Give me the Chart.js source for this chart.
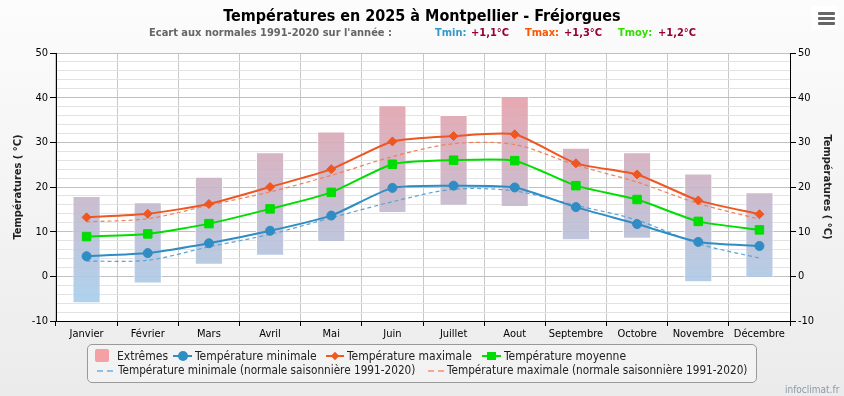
<!DOCTYPE html>
<html>
<head>
<meta charset="utf-8">
<script src="https://cdn.jsdelivr.net/npm/chart.js@4.4.1/dist/chart.umd.min.js"></script>
<style>
  html, body { margin: 0; padding: 0; }
  body {
    width: 844px; height: 396px; position: relative; overflow: hidden;
    background: linear-gradient(180deg, #fcfcfc 0%, #f3f3f3 55%, #ebebeb 100%);
    font-family: "DejaVu Sans Condensed", "DejaVu Sans", sans-serif;
  }
  #wrap { position: absolute; left: 0; top: 0; width: 844px; height: 396px; }
  .t { position: absolute; white-space: nowrap; line-height: 1; }
  .title { font-weight: bold; font-size: 16px; color: #000; left: 0; width: 844px; text-align: center; top: 8px; }
  .sub { font-weight: bold; font-size: 11px; top: 27px; }
  .legend { position: absolute; left: 87px; top: 344px; width: 668px; height: 37px; border: 1px solid #999; border-radius: 5px; background: rgba(255,255,255,0.35); }
  .lg { position: absolute; font-size: 12px; color: #222; white-space: nowrap; line-height: 1; }
  .lg2 { font-size: 11.7px; }
  .mk { position: absolute; }
  .menu { position: absolute; left: 811px; top: 6px; width: 27px; height: 24px; background: #fff; border-radius: 3px; }
  .menu div { position: absolute; left: 7px; width: 17px; height: 3px; background: #666; border-radius: 1px; }
</style>
</head>
<body>
<div id="wrap"><canvas id="chart"></canvas></div>

<div class="t title">Températures en 2025 à Montpellier - Fréjorgues</div>
<div class="t sub" style="left:149px;color:#666">Ecart aux normales 1991-2020 sur l'année :</div>
<div class="t sub" style="left:435px;color:#3399cc">Tmin:</div>
<div class="t sub" style="left:471px;color:#990033">+1,1°C</div>
<div class="t sub" style="left:525px;color:#ff5500">Tmax:</div>
<div class="t sub" style="left:564px;color:#990033">+1,3°C</div>
<div class="t sub" style="left:618px;color:#33dd00">Tmoy:</div>
<div class="t sub" style="left:658px;color:#990033">+1,2°C</div>

<div class="menu"><div style="top:6px"></div><div style="top:11px"></div><div style="top:16px"></div></div>

<div class="legend"></div>
<!-- legend row 1 -->
<div class="mk" style="left:95px;top:349px;width:14px;height:13px;background:#f4a0a4;border-radius:2px"></div>
<div class="lg" style="left:117px;top:350px">Extrêmes</div>
<div class="mk" style="left:173px;top:355px;width:19px;height:2px;background:#2f8dc4"></div>
<div class="mk" style="left:178px;top:351px;width:10px;height:10px;border-radius:50%;background:#2f8dc4"></div>
<div class="lg" style="left:195px;top:350px">Température minimale</div>
<div class="mk" style="left:326px;top:355px;width:18px;height:2px;background:#f05a1e"></div>
<div class="mk" style="left:332px;top:353px;width:6px;height:6px;background:#f05a1e;transform:rotate(45deg)"></div>
<div class="lg" style="left:347px;top:350px">Température maximale</div>
<div class="mk" style="left:482px;top:355px;width:19px;height:2px;background:#00dd00"></div>
<div class="mk" style="left:487px;top:352px;width:9px;height:8px;background:#00dd00"></div>
<div class="lg" style="left:504px;top:350px">Température moyenne</div>
<!-- legend row 2 -->
<div class="mk" style="left:97px;top:370px;width:16px;height:0;border-top:2px dashed #8cc0e4"></div>
<div class="lg lg2" style="left:118px;top:365px">Température minimale (normale saisonnière 1991-2020)</div>
<div class="mk" style="left:428px;top:370px;width:16px;height:0;border-top:2px dashed #f8a888"></div>
<div class="lg lg2" style="left:447px;top:365px">Température maximale (normale saisonnière 1991-2020)</div>

<div class="t" style="left:785px;top:385px;font-size:10px;color:#8a9aa8">infoclimat.fr</div>

<script>
const months = ['Janvier', 'Février', 'Mars', 'Avril', 'Mai', 'Juin', 'Juillet', 'Aout', 'Septembre', 'Octobre', 'Novembre', 'Décembre'];

// 2025 monthly means (°C)
const tmin = [4.5, 5.2, 7.4, 10.2, 13.6, 19.8, 20.3, 19.9, 15.5, 11.7, 7.7, 6.8];
const tmax = [13.2, 14.0, 16.2, 20.0, 24.0, 30.2, 31.4, 31.8, 25.3, 22.8, 17.0, 13.9];
const tmoy = [8.9, 9.5, 11.8, 15.1, 18.8, 25.1, 26.0, 25.9, 20.3, 17.2, 12.3, 10.4];

// monthly extremes (lowest min / highest max)
const extLow = [-6.0, -1.6, 2.6, 4.6, 7.7, 14.2, 15.8, 15.5, 8.1, 8.4, -1.3, -0.4];
const extHigh = [18.0, 16.6, 22.3, 27.8, 32.4, 38.3, 36.1, 40.4, 28.8, 27.8, 23.0, 18.8];

// normals 1991-2020
const normMin = [3.4, 3.6, 6.6, 9.4, 13.1, 16.7, 19.5, 19.1, 15.9, 12.6, 7.3, 4.1];
const normMax = [12.2, 12.9, 15.9, 18.9, 22.6, 26.8, 29.7, 29.5, 24.9, 21.1, 16.3, 12.8];

const yMin = -10, yMax = 50;

const FONT = '"DejaVu Sans Condensed", "DejaVu Sans", sans-serif';

function barGradient(context) {
  const chart = context.chart;
  const area = chart.chartArea;
  if (!area) return 'rgba(200,180,200,0.8)';
  const g = chart.ctx.createLinearGradient(0, area.top, 0, area.bottom);
  g.addColorStop(0, 'rgba(242,150,156,0.9)');
  g.addColorStop(1, 'rgba(160,210,242,0.9)');
  return g;
}

const plotBg = {
  id: 'plotBg',
  beforeDraw(chart) {
    const { ctx, chartArea: a } = chart;
    ctx.save();
    ctx.fillStyle = '#ffffff';
    ctx.fillRect(a.left, a.top, a.right - a.left, a.bottom - a.top);
    ctx.restore();
  }
};

const isMajor = v => v % 10 === 0;

const ctx = document.getElementById('chart').getContext('2d');
new Chart(ctx, {
  type: 'bar',
  data: {
    labels: months,
    datasets: [
      {
        type: 'line', label: 'Température minimale', data: tmin, order: 1,
        borderColor: '#2f8dc4', backgroundColor: '#2f8dc4', borderWidth: 2,
        pointStyle: 'circle', pointRadius: 4.5, pointBorderWidth: 1, tension: 0.2
      },
      {
        type: 'line', label: 'Température maximale', data: tmax, order: 1,
        borderColor: '#ee5622', backgroundColor: '#ee5622', borderWidth: 2,
        pointStyle: 'rectRot', pointRadius: 4.5, pointBorderWidth: 1, tension: 0.2
      },
      {
        type: 'line', label: 'Température moyenne', data: tmoy, order: 1,
        borderColor: '#00dd00', backgroundColor: '#00dd00', borderWidth: 2,
        pointStyle: 'rect', pointRadius: 6, pointBorderWidth: 1, tension: 0.2
      },
      {
        type: 'line', label: 'Température minimale (normale saisonnière 1991-2020)', data: normMin, order: 5,
        borderColor: '#5ba3d6', borderWidth: 1.2, borderDash: [4, 3], pointRadius: 0, tension: 0.3
      },
      {
        type: 'line', label: 'Température maximale (normale saisonnière 1991-2020)', data: normMax, order: 5,
        borderColor: '#f0805a', borderWidth: 1.2, borderDash: [4, 3], pointRadius: 0, tension: 0.3
      },
      {
        type: 'bar', label: 'Extrêmes', order: 10,
        data: extLow.map((lo, i) => [lo, extHigh[i]]),
        backgroundColor: barGradient, borderColor: 'rgba(255,255,255,0.9)', borderWidth: 1,
        borderSkipped: false, categoryPercentage: 1, barPercentage: 0.46
      }
    ]
  },
  options: {
    responsive: true,
    maintainAspectRatio: false,
    animation: false,
    layout: { padding: { left: 12, right: 11, top: 53, bottom: 55 } },
    plugins: {
      legend: { display: false },
      title: { display: false },
      tooltip: { enabled: false }
    },
    scales: {
      x: {
        grid: { color: '#c8c8c8', tickColor: '#000', tickLength: 5, offset: true },
        border: { color: '#000', width: 1 },
        ticks: { color: '#000', font: { family: FONT, size: 11 }, padding: 2, maxRotation: 0, autoSkip: false },
        afterFit(scale) { scale.height = 20; }
      },
      y: {
        position: 'left', min: yMin, max: yMax,
        grid: {
          color: c => isMajor(c.tick.value) ? '#c0c0c0' : '#e2e2e2',
          tickColor: c => isMajor(c.tick.value) ? '#000' : 'rgba(0,0,0,0)',
          tickLength: 6
        },
        border: { color: '#000', width: 1 },
        ticks: {
          stepSize: 2, autoSkip: false, padding: 2, color: '#000',
          font: { family: FONT, size: 11 },
          callback: v => isMajor(v) ? v : ''
        },
        title: { display: true, text: 'Températures ( °C)', color: '#222', font: { family: FONT, size: 11, weight: 'bold' }, padding: 0 },
        afterFit(scale) { scale.width = 44; }
      },
      y2: {
        position: 'right', min: yMin, max: yMax,
        grid: {
          drawOnChartArea: false,
          tickColor: c => isMajor(c.tick.value) ? '#000' : 'rgba(0,0,0,0)',
          tickLength: 6
        },
        border: { color: '#000', width: 1 },
        ticks: {
          stepSize: 2, autoSkip: false, padding: 2, color: '#000',
          font: { family: FONT, size: 11 },
          callback: v => isMajor(v) ? v : ''
        },
        title: { display: true, text: 'Températures ( °C)', color: '#222', font: { family: FONT, size: 11, weight: 'bold' }, padding: 0 },
        afterFit(scale) { scale.width = 43; }
      }
    }
  },
  plugins: [plotBg]
});
</script>
</body>
</html>
